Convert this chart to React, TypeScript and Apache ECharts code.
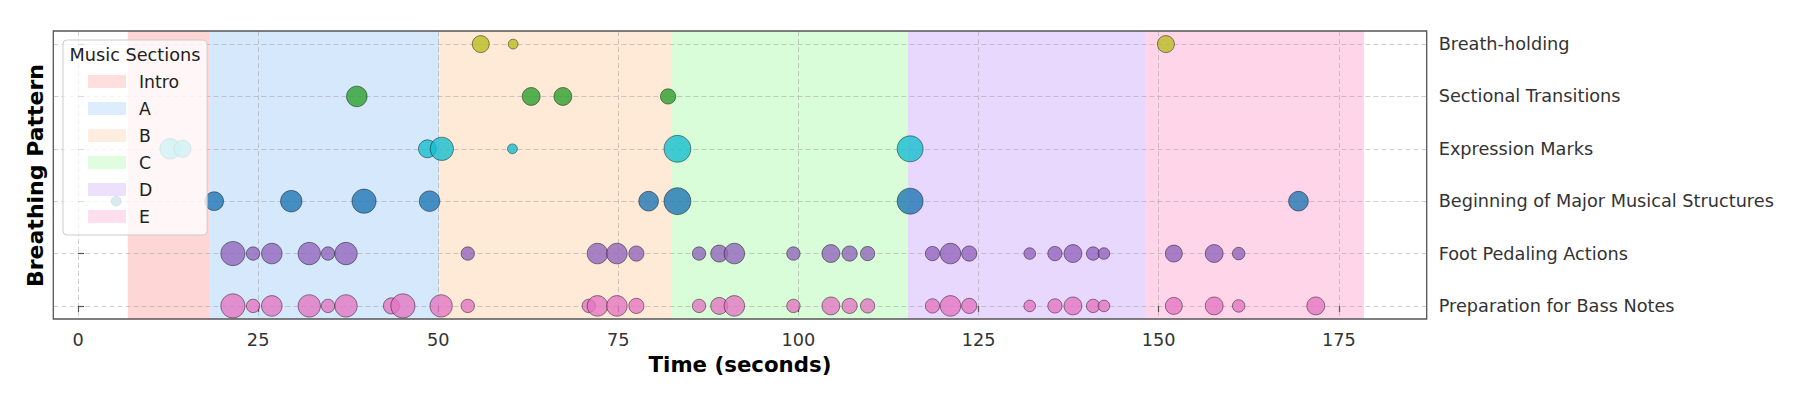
import React, { useEffect, useRef } from "react";
import * as echarts from "echarts";

// ---- Data ----
const rowNames = [
  "Preparation for Bass Notes",
  "Foot Pedaling Actions",
  "Beginning of Major Musical Structures",
  "Expression Marks",
  "Sectional Transitions",
  "Breath-holding",
];
const rowColors = ["#e377c2", "#9467bd", "#1f77b4", "#17becf", "#2ca02c", "#bcbd22"];

const sectionNames = ["Intro", "A", "B", "C", "D", "E"];
const sectionStarts = [6.9, 18.2, 50.1, 82.4, 115.2, 148.1];
const sectionEnds = [18.2, 50.1, 82.4, 115.2, 148.1, 178.5];
const sectionColors = [
  "rgba(255,173,173,0.5)",
  "rgba(173,209,249,0.5)",
  "rgba(255,213,177,0.5)",
  "rgba(177,251,177,0.5)",
  "rgba(211,177,251,0.5)",
  "rgba(255,173,211,0.5)",
];

const xTicks = [0, 25, 50, 75, 100, 125, 150, 175];
const yTicks = [0, 1, 2, 3, 4, 5];

const bassTimes = [21.5, 24.3, 26.9, 32.1, 34.7, 37.2, 43.5, 45.1, 50.4, 54.1, 70.9, 72.1, 74.8, 77.5, 86.2, 89.0, 91.1, 99.3, 104.5, 107.1, 109.6, 118.6, 121.1, 123.7, 132.1, 135.6, 138.1, 140.9, 142.4, 152.1, 157.7, 161.1, 171.8];
const bassIntensity = [9, 3, 7, 8, 3, 8, 4.5, 9, 8, 3, 3, 7, 7, 4, 3, 5, 7, 3, 5.5, 4, 3.5, 3.5, 7, 4, 2, 3.5, 5.5, 3, 2, 5, 5.5, 2.5, 5.5];

const pedalTimes = [21.5, 24.3, 26.9, 32.1, 34.7, 37.2, 54.1, 72.1, 74.8, 77.5, 86.2, 89.0, 91.1, 99.3, 104.5, 107.1, 109.6, 118.6, 121.1, 123.7, 132.1, 135.6, 138.1, 140.9, 142.4, 152.1, 157.7, 161.1];
const pedalIntensity = [9, 3, 7, 8, 3, 8, 3, 7, 7, 4, 3, 5, 7, 3, 5.5, 4, 3.5, 3.5, 7, 4, 2, 3.5, 5.5, 3, 2, 5, 5.5, 2.5];

const structTimes = [5.3, 18.9, 29.6, 39.7, 48.8, 79.2, 83.2, 115.5, 169.4];
const structIntensity = [1, 6, 7.5, 9, 7, 6.5, 10.5, 10, 6.5];

const exprTimes = [12.8, 14.5, 48.5, 50.5, 60.3, 83.2, 115.5];
const exprIntensity = [7, 5, 5.5, 8.5, 1, 10.5, 10];

const transTimes = [38.7, 62.9, 67.3, 81.9];
const transIntensity = [7, 5.5, 5.5, 4];

const breathTimes = [55.9, 60.4, 151.0];
const breathIntensity = [5, 1, 5];

const rowTimes = [bassTimes, pedalTimes, structTimes, exprTimes, transTimes, breathTimes];
const rowIntensity = [bassIntensity, pedalIntensity, structIntensity, exprIntensity, transIntensity, breathIntensity];

const FONT = "DejaVu Sans";

export default function App() {
  const ref = useRef<HTMLDivElement>(null);
  useEffect(() => {
    if (!ref.current) return;
    const chart = echarts.init(ref.current, undefined, { renderer: "svg" });

    const bandSeries = sectionNames.map((name, i) => ({
      type: "scatter",
      name,
      data: [],
      z: 1,
      silent: true,
      itemStyle: { color: sectionColors[i] },
      markArea: {
        silent: true,
        itemStyle: { color: sectionColors[i], borderWidth: 0 },
        data: [[{ xAxis: sectionStarts[i] }, { xAxis: sectionEnds[i] }]],
      },
    }));

    const pointSeries = rowNames.map((name, r) => ({
      type: "scatter",
      name,
      z: 2,
      data: rowTimes[r].map((t, i) => [t, r, rowIntensity[r][i]]),
      symbolSize: (v: number[]) => 8 + 1.8 * v[2],
      itemStyle: {
        color: rowColors[r],
        opacity: 0.8,
        borderColor: "rgba(0,0,0,0.55)",
        borderWidth: 1,
      },
    }));

    const gridLine = {
      show: true,
      lineStyle: { color: "rgba(150,150,150,0.45)", type: [5, 3], width: 1 },
    };

    chart.setOption({
      animation: false,
      textStyle: { fontFamily: FONT },
      grid: {
        show: true,
        left: 53.3,
        right: 373.3,
        top: 31,
        bottom: 90,
        borderColor: "#555",
        borderWidth: 1.3,
        backgroundColor: "transparent",
        z: 3,
      },
      legend: {
        orient: "vertical",
        left: 63,
        top: 40,
        data: sectionNames.map((n) => ({ name: n, icon: "rect" })),
        itemWidth: 38,
        itemHeight: 13,
        itemGap: 10,
        selectedMode: false,
        padding: [33, 28, 10, 25],
        backgroundColor: "rgba(255,255,255,0.8)",
        borderColor: "#cccccc",
        borderWidth: 1,
        borderRadius: 4,
        textStyle: { fontSize: 17.3, color: "#222", fontFamily: FONT, padding: [0, 0, 0, 8] },
        z: 4,
      },
      graphic: [
        {
          type: "text",
          x: 135,
          y: 55,
          z: 100,
          style: {
            text: "Music Sections",
            font: `17.7px '${FONT}'`,
            fill: "#222",
            align: "center",
            verticalAlign: "middle",
          },
        },
        {
          type: "text",
          x: 35,
          y: 175.5,
          rotation: Math.PI / 2,
          z: 100,
          style: {
            text: "Breathing Pattern",
            font: `bold 22px '${FONT}'`,
            fill: "#000",
            align: "center",
            verticalAlign: "middle",
          },
        },
      ],
      xAxis: {
        type: "value",
        min: -3.43,
        max: 187.2,
        z: 1.5,
        name: "Time (seconds)",
        nameLocation: "middle",
        nameGap: 35,
        nameTextStyle: { fontSize: 21.3, fontWeight: "bold", color: "#000", fontFamily: FONT },
        axisLine: { show: false },
        axisTick: { show: true, customValues: xTicks, length: 6, lineStyle: { color: "#555", width: 1.2 } },
        axisLabel: { customValues: xTicks, margin: 12, fontSize: 17.7, color: "#333", fontFamily: FONT },
        splitLine: gridLine,
      },
      yAxis: {
        type: "value",
        position: "right",
        min: -0.25,
        max: 5.25,
        z: 1.5,
        axisLine: { show: false },
        axisTick: { show: true, customValues: yTicks, length: 6, lineStyle: { color: "#555", width: 1.2 } },
        axisLabel: {
          customValues: yTicks,
          margin: 12,
          fontSize: 17.7,
          color: "#333",
          fontFamily: FONT,
          formatter: (v: number) => rowNames[Math.round(v)] ?? "",
        },
        splitLine: gridLine,
      },
      series: [...bandSeries, ...pointSeries],
    });
    return () => chart.dispose();
  }, []);

  return (
    <div
      ref={ref}
      style={{ position: "fixed", left: 0, top: 0, width: 1800, height: 409, background: "#fff" }}
    />
  );
}
